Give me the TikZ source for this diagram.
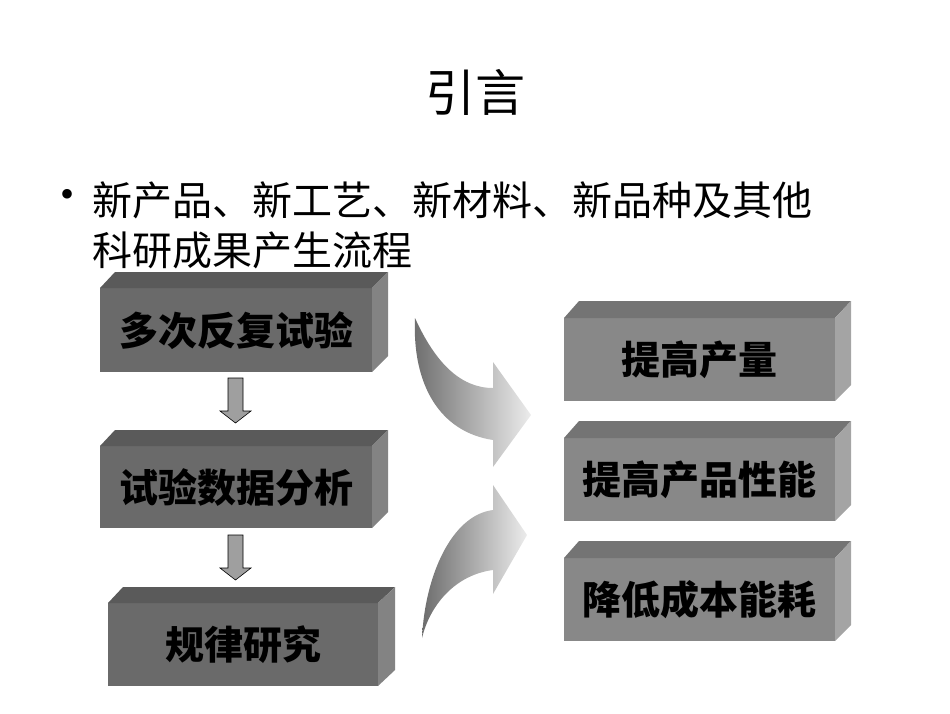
\documentclass[tikz,border=0pt]{standalone}
\usepackage{fontspec}
\newfontfamily\cjk{Noto Sans CJK SC}
\setmainfont{Liberation Serif}
\begin{document}
\begin{tikzpicture}[x=1pt,y=-1pt]
\useasboundingbox (0,0) rectangle (950,713);
\tikzset{lbl/.style={font=\cjk\bfseries\fontsize{39}{39}\selectfont,text=black},
 smallarr/.style={fill=gray!75,draw=black,line width=0.6pt},
 bigarr/.style={left color=gray!85!black,right color=gray!15}}
\newcommand\mycube[8]{% x1,ytop,yft,ybot,x2,x3,front,side
 \fill[#7] (#1,#3) rectangle (#5,#4);
 \fill[#7!85!black] (#1,#3) -- (#1+15,#2) -- (#6,#2) -- (#5,#3) -- cycle;
 \fill[#8] (#5,#3) -- (#6,#2) -- (#6,#4-16) -- (#5,#4) -- cycle;}
\definecolor{lf}{HTML}{6A6A6A}\definecolor{ls}{HTML}{838383}
\definecolor{rf}{HTML}{888888}\definecolor{rs}{HTML}{A4A4A4}
\node[font=\cjk\fontsize{50}{50}\selectfont] (title) at (475,92) {引言};
\node[font=\fontsize{40}{40}\selectfont] (bul) at (68,198) {•};
\node[anchor=west,font=\cjk\fontsize{40}{40}\selectfont,inner sep=0] (l1) at (92,200) {新产品、新工艺、新材料、新品种及其他};
\node[anchor=west,font=\cjk\fontsize{40}{40}\selectfont,inner sep=0] (l2) at (92,250) {科研成果产生流程};
\mycube{100}{272}{288}{372}{372}{388}{lf}{ls}
\mycube{100}{430}{446}{528}{372}{388}{lf}{ls}
\mycube{108}{587}{603}{686}{378}{395}{lf}{ls}
\mycube{564}{301}{318}{401}{835}{851}{rf}{rs}
\mycube{564}{421}{438}{521}{835}{851}{rf}{rs}
\mycube{564}{541}{558}{641}{835}{851}{rf}{rs}
\node[lbl] (b1) at (236,331) {多次反复试验};
\node[lbl] (b2) at (236,488) {试验数据分析};
\node[lbl] (b3) at (243,645) {规律研究};
\node[lbl] (r1) at (699,360) {提高产量};
\node[lbl] (r2) at (699,480) {提高产品性能};
\node[lbl] (r3) at (699,600) {降低成本能耗};
\draw[smallarr] (228,378) -- (243,378) -- (243,411) -- (251,411) -- (235.5,423) -- (220,411) -- (228,411) -- cycle;
\draw[smallarr] (228,535) -- (243,535) -- (243,568) -- (251,568) -- (235.5,580) -- (220,568) -- (228,568) -- cycle;
\shade[bigarr] (415,318) .. controls (435,362) and (460,388) .. (493,388) -- (493,362) -- (531,415) -- (493,467) -- (493,440) .. controls (440,432) and (412,385) .. (415,318) -- cycle;
\shade[bigarr] (422,638) .. controls (425,575) and (452,515) .. (493,510) -- (493,485) -- (527,535) -- (493,594) -- (493,570) .. controls (455,575) and (430,605) .. (422,638) -- cycle;
\end{tikzpicture}
\end{document}
